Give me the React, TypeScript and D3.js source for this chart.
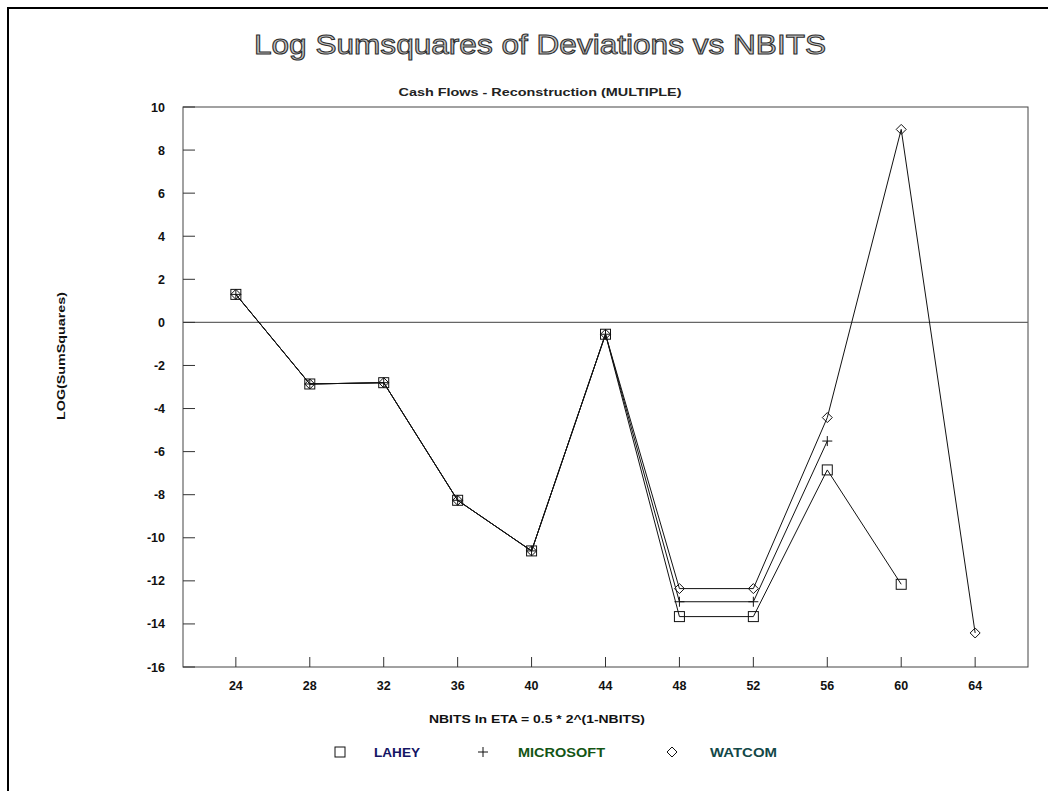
import React from "react";
import * as d3 from "d3";

// values
const nbits = [24, 28, 32, 36, 40, 44, 48, 52, 56, 60, 64];
const lahey = [1.3, -2.86, -2.8, -8.26, -10.61, -0.55, -13.66, -13.66, -6.85, -12.16];
const microsoft = [1.3, -2.86, -2.8, -8.26, -10.61, -0.55, -12.97, -12.97, -5.51];
const watcom = [1.3, -2.86, -2.8, -8.26, -10.61, -0.55, -12.36, -12.36, -4.42, 8.96, -14.42];
const yTicks = [10, 8, 6, 4, 2, 0, -2, -4, -6, -8, -10, -12, -14, -16];

const seriesNames = ["LAHEY", "MICROSOFT", "WATCOM"];
const seriesValues = [lahey, microsoft, watcom];
const seriesSymbols = ["square", "plus", "diamond"];
const legendColors = ["#141464", "#145514", "#134848"];

const W = 1048;
const H = 791;
const margin = { left: 183, right: 1028, top: 107, bottom: 667 };
const font = "'Liberation Sans', Arial, sans-serif";

function Marker({ kind, x, y }: { kind: string; x: number; y: number }) {
  const s = 5;
  if (kind === "square")
    return <rect x={x - s} y={y - s} width={2 * s} height={2 * s} fill="none" stroke="#111" strokeWidth={1} />;
  if (kind === "plus")
    return (
      <path d={`M${x - s},${y}H${x + s}M${x},${y - s}V${y + s}`} stroke="#111" strokeWidth={1} fill="none" />
    );
  return (
    <path d={`M${x},${y - s}L${x + s},${y}L${x},${y + s}L${x - s},${y}Z`} fill="none" stroke="#111" strokeWidth={1} />
  );
}

export default function App() {
  const x = d3.scaleLinear().domain([21.14, 66.86]).range([margin.left, margin.right]);
  const y = d3.scaleLinear().domain([-16, 10]).range([margin.bottom, margin.top]);
  const line = d3
    .line<[number, number]>()
    .x((d) => x(d[0]))
    .y((d) => y(d[1]));

  return (
    <svg
      width={W}
      height={H}
      style={{ position: "absolute", left: 0, top: 0, background: "#fff" }}
      fontFamily={font}
    >
      {/* page frame, runs off the right and bottom */}
      <rect x={8} y={8} width={1200} height={1000} fill="none" stroke="#000" strokeWidth={2} />

      <text
        x={540}
        y={54}
        textAnchor="middle"
        fontSize={27}
        fill="#c4c4c4"
        stroke="#2e2e2e"
        strokeWidth={1}
        textLength={572}
        lengthAdjust="spacingAndGlyphs"
      >
        Log Sumsquares of Deviations vs NBITS
      </text>
      <text
        x={540}
        y={96}
        textAnchor="middle"
        fontSize={11}
        fontWeight="bold"
        fill="#222"
        textLength={283}
        lengthAdjust="spacingAndGlyphs"
      >
        Cash Flows - Reconstruction (MULTIPLE)
      </text>

      {/* plot frame */}
      <rect
        x={margin.left}
        y={margin.top}
        width={margin.right - margin.left}
        height={margin.bottom - margin.top}
        fill="none"
        stroke="#444"
        strokeWidth={1}
      />
      <line x1={margin.left} x2={margin.right} y1={y(0)} y2={y(0)} stroke="#666" strokeWidth={1.3} />

      {yTicks.map((t) => (
        <g key={t}>
          <line x1={margin.left} x2={margin.left + 12} y1={y(t)} y2={y(t)} stroke="#333" />
          <text x={165} y={y(t) + 4.5} textAnchor="end" fontSize={12.5} fontWeight="bold" fill="#111">
            {t}
          </text>
        </g>
      ))}
      {nbits.map((t) => (
        <g key={t}>
          <line x1={x(t)} x2={x(t)} y1={margin.bottom} y2={margin.bottom - 10} stroke="#333" />
          <text x={x(t)} y={690} textAnchor="middle" fontSize={12.5} fontWeight="bold" fill="#111">
            {t}
          </text>
        </g>
      ))}

      <text
        transform={`translate(65,356) rotate(-90)`}
        textAnchor="middle"
        fontSize={11}
        fontWeight="bold"
        fill="#111"
        textLength={128}
        lengthAdjust="spacingAndGlyphs"
      >
        LOG(SumSquares)
      </text>
      <text
        x={537}
        y={723}
        textAnchor="middle"
        fontSize={11.5}
        fontWeight="bold"
        fill="#111"
        textLength={216}
        lengthAdjust="spacingAndGlyphs"
      >
        NBITS In ETA = 0.5 * 2^(1-NBITS)
      </text>

      {seriesValues.map((vals, i) => {
        const pts = vals.map((v, j) => [nbits[j], v] as [number, number]);
        return (
          <g key={seriesNames[i]}>
            <path d={line(pts) || ""} fill="none" stroke="#111" strokeWidth={1} />
            {pts.map((p, j) => (
              <Marker key={j} kind={seriesSymbols[i]} x={x(p[0])} y={y(p[1])} />
            ))}
          </g>
        );
      })}

      {/* legend */}
      {seriesNames.map((name, i) => {
        const sx = [340, 483, 672][i];
        const tx = [374, 518, 710][i];
        const tl = [46, 87, 67][i];
        return (
          <g key={name}>
            <Marker kind={seriesSymbols[i]} x={sx} y={752} />
            <text
              x={tx}
              y={757}
              fontSize={12}
              fontWeight="bold"
              fill={legendColors[i]}
              textLength={tl}
              lengthAdjust="spacingAndGlyphs"
            >
              {name}
            </text>
          </g>
        );
      })}
    </svg>
  );
}
